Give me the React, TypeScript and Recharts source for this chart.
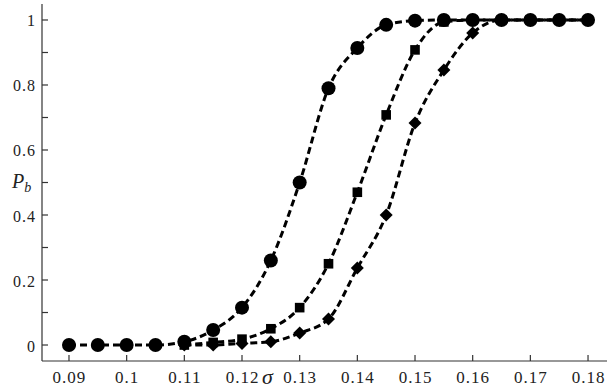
import { LineChart, Line, XAxis, YAxis } from "recharts"

const sigma = [0.09, 0.095, 0.1, 0.105, 0.11, 0.115, 0.12, 0.125, 0.13, 0.135, 0.14, 0.145, 0.15, 0.155, 0.16, 0.165, 0.17, 0.175, 0.18]
const circles = [0, 0, 0, 0, 0.01, 0.046, 0.115, 0.26, 0.5, 0.79, 0.914, 0.985, 0.998, 1, 1, 1, 1, 1, 1]
const squares = [null, null, null, null, 0, 0.008, 0.018, 0.05, 0.115, 0.25, 0.47, 0.708, 0.908, 0.994, 1, 1, 1, 1, 1]
const diamonds = [null, null, null, null, 0, 0, 0.005, 0.01, 0.037, 0.08, 0.237, 0.4, 0.683, 0.846, 0.96, 1, 1, 1, 1]

const xTicks = [0.09, 0.1, 0.11, 0.12, 0.13, 0.14, 0.15, 0.16, 0.17, 0.18]
const yTicks = [0, 0.1, 0.2, 0.3, 0.4, 0.5, 0.6, 0.7, 0.8, 0.9, 1]
const yLabeled = [0, 0.2, 0.4, 0.6, 0.8, 1]

const data = sigma.map((s, i) => ({ s, c: circles[i], q: squares[i], d: diamonds[i] }))

const FONT = "Liberation Serif, Times New Roman, serif"

const XTick = ({ x, y, payload }: any) => (
  <g>
    <line x1={x} x2={x} y1={y - 6} y2={y - 12} stroke="#333" strokeWidth={1.2} />
    <text x={x + 0.5} y={y + 16} textAnchor="middle" fontFamily={FONT} fontSize={17} letterSpacing={1} fill="#222">
      {String(payload.value)}
    </text>
  </g>
)

const YTick = ({ x, y, payload }: any) => {
  const labeled = yLabeled.some((v) => Math.abs(v - payload.value) < 1e-6)
  return (
    <g>
      <line x1={x + 6} x2={x + 12} y1={y} y2={y} stroke="#333" strokeWidth={1.2} />
      {labeled && (
        <text x={x} y={y + 6.5} textAnchor="end" fontFamily={FONT} fontSize={16} letterSpacing={1} fill="#222">
          {String(payload.value)}
        </text>
      )}
    </g>
  )
}

const Circle = ({ cx, cy }: any) => (cx == null || cy == null ? null : <circle cx={cx} cy={cy} r={7} fill="#000" />)
const Square = ({ cx, cy }: any) => (cx == null || cy == null ? null : <rect x={cx - 4.8} y={cy - 4.8} width={9.6} height={9.6} fill="#000" />)
const Diamond = ({ cx, cy }: any) =>
  cx == null || cy == null ? null : (
    <polygon points={`${cx},${cy - 6.5} ${cx + 6.5},${cy} ${cx},${cy + 6.5} ${cx - 6.5},${cy}`} fill="#000" />
  )

const PbLabel = ({ viewBox }: any) => {
  const cy = viewBox.y + viewBox.height / 2
  return (
    <text x={12} y={cy + 5.5} fontFamily={FONT} fontStyle="italic" fontSize={20} fill="#222">
      P
      <tspan fontSize={14} dy={4}>b</tspan>
    </text>
  )
}

export default function App() {
  return (
    <div style={{ position: "fixed", left: 0, top: 0, background: "#fff" }}>
      <LineChart width={609} height={390} data={data} margin={{ top: 4, right: 2, bottom: 0, left: 0 }}>
        <XAxis
          dataKey="s"
          type="number"
          domain={[0.08532, 0.18329]}
          allowDataOverflow
          ticks={xTicks}
          tick={<XTick />}
          tickLine={false}
          tickSize={0}
          tickMargin={6}
          height={29}
          stroke="#333"
          strokeWidth={1.2}
          label={{ value: "σ", position: "insideBottom", dx: -57, offset: 6, fontFamily: FONT, fontStyle: "italic", fontSize: 22, fill: "#222" }}
        />
        <XAxis xAxisId="top" orientation="top" dataKey="s" type="number" domain={[0.08532, 0.18329]} tick={false} tickLine={false} height={0} stroke="#333" strokeWidth={1.2} />
        <YAxis
          type="number"
          domain={[-0.0492, 1.0492]}
          allowDataOverflow
          ticks={yTicks}
          tick={<YTick />}
          tickLine={false}
          tickSize={0}
          tickMargin={6}
          width={42}
          stroke="#333"
          strokeWidth={1.2}
          label={<PbLabel />}
        />
        <YAxis yAxisId="right" orientation="right" domain={[-0.0492, 1.0492]} tick={false} tickLine={false} width={0} stroke="#333" strokeWidth={1.2} />
        <Line dataKey="d" type="monotone" stroke="#000" strokeWidth={3} strokeDasharray="7 4" dot={<Diamond />} activeDot={false} isAnimationActive={false} connectNulls />
        <Line dataKey="q" type="monotone" stroke="#000" strokeWidth={3} strokeDasharray="7 4" dot={<Square />} activeDot={false} isAnimationActive={false} connectNulls />
        <Line dataKey="c" type="monotone" stroke="#000" strokeWidth={3} strokeDasharray="7 4" dot={<Circle />} activeDot={false} isAnimationActive={false} />
      </LineChart>
    </div>
  )
}
